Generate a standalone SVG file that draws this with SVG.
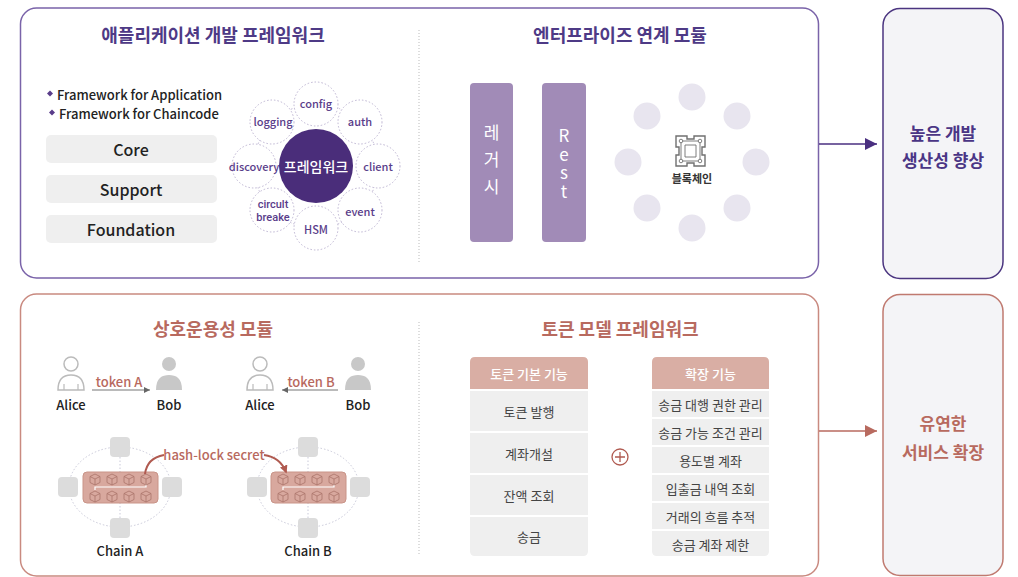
<svg xmlns="http://www.w3.org/2000/svg" width="1018" height="577" viewBox="0 0 1018 577">
<defs>
<style>
text{font-family:"Noto Sans CJK KR","Noto Sans",sans-serif;dominant-baseline:central;text-anchor:middle}
.ptitle{font-size:18px;font-weight:700;fill:#4e3a86}
.stitle{font-size:18px;font-weight:700;fill:#b86a5f}
.en{font-size:13px;font-weight:500;fill:#222;text-anchor:start}
.gbox{fill:#efefef}
.gtxt{font-size:16px;font-weight:500;fill:#222}
.sat{fill:#fff;stroke:#bdb4d2;stroke-width:1;stroke-dasharray:1.5 2}
.stxt{font-size:11px;font-weight:500;fill:#5a3d8a}
.stxt2{font-family:Roboto,"Liberation Sans",sans-serif;font-size:11px;font-weight:500;fill:#5a3d8a}
.bar{fill:#a18bb7}
.vtxt{font-size:17px;fill:#fff;writing-mode:vertical-rl;text-orientation:upright}
.dot{fill:#e8e5ef}
.div{stroke:#bbb;stroke-width:1;stroke-dasharray:1 2}
.lbl{font-size:13px;font-weight:500;fill:#222}
.red{font-size:13px;font-weight:500;fill:#b8695e}
.node{fill:#dcdcdc}
.ring{fill:none;stroke:#c9c9d9;stroke-width:1;stroke-dasharray:1.5 2}
.blk{fill:#d8a89e;stroke:#c99488;stroke-width:1}
.hdr{fill:#d9aea4}
.htxt{font-size:13px;font-weight:500;fill:#fff}
.row{fill:#efefef}
.rtxt{font-size:13px;fill:#444}
.cube{fill:none;stroke:#a9736a;stroke-width:0.8}
</style>
<marker id="ahP" viewBox="0 0 10 10" refX="10" refY="5" markerWidth="18" markerHeight="12" markerUnits="userSpaceOnUse" orient="auto"><path d="M0,0 L10,5 L0,10 Z" fill="#4a2f80"/></marker>
<marker id="ahR" viewBox="0 0 10 10" refX="10" refY="5" markerWidth="18" markerHeight="12" markerUnits="userSpaceOnUse" orient="auto"><path d="M0,0 L10,5 L0,10 Z" fill="#b86a5f"/></marker>
<marker id="ahG" viewBox="0 0 10 10" refX="10" refY="5" markerWidth="6" markerHeight="6" markerUnits="userSpaceOnUse" orient="auto"><path d="M0,0 L10,5 L0,10 Z" fill="#666"/></marker>
<marker id="ahC" viewBox="0 0 10 10" refX="8" refY="5" markerWidth="8" markerHeight="8" markerUnits="userSpaceOnUse" orient="auto"><path d="M0,0 L10,5 L0,10 Z" fill="#b05a50"/></marker>
<g id="cubeA">
<path class="cube" d="M-5,-2.5 L0,-5 L5,-2.5 L5,3.5 L0,6 L-5,3.5 Z M-5,-2.5 L0,0 L5,-2.5 M0,0 L0,6"/>
</g>
<g id="person">
<circle cx="0" cy="-11" r="7"/>
<path d="M-13,15 C-13,3 -7,0 0,0 C7,0 13,3 13,15 Z"/>
</g>
</defs>

<!-- Top section -->
<g id="top-panel">
<rect x="20.5" y="8" width="798" height="270" rx="16" fill="#fff" stroke="#7a63a9" stroke-width="1.5"/>
<line class="div" x1="419" y1="30" x2="419" y2="262"/>
</g>

<g id="app-framework">
<text class="ptitle" x="213" y="34">애플리케이션 개발 프레임워크</text>
<path d="M50,90.5 L53,93.5 L50,96.5 L47,93.5 Z" fill="#5a3d8a"/>
<text class="en" x="57" y="94">Framework for Application</text>
<path d="M52,109.5 L55,112.5 L52,115.5 L49,112.5 Z" fill="#5a3d8a"/>
<text class="en" x="59" y="113">Framework for Chaincode</text>
<g id="core"><rect class="gbox" x="46" y="135" width="171" height="28" rx="5"/><text class="gtxt" x="131" y="149">Core</text></g>
<g id="support"><rect class="gbox" x="46" y="175" width="171" height="28" rx="5"/><text class="gtxt" x="131" y="189">Support</text></g>
<g id="foundation"><rect class="gbox" x="46" y="215" width="171" height="28" rx="5"/><text class="gtxt" x="131" y="229">Foundation</text></g>
</g>

<g id="framework-wheel">
<circle cx="316" cy="166" r="62" fill="none" stroke="#bdb4d2" stroke-width="1" stroke-dasharray="1.5 2"/>
<g id="sat-config"><circle class="sat" cx="316" cy="104" r="22"/><text class="stxt" x="316" y="103">config</text></g>
<g id="sat-auth"><circle class="sat" cx="360" cy="122" r="22"/><text class="stxt" x="360" y="121">auth</text></g>
<g id="sat-client"><circle class="sat" cx="378" cy="166" r="22"/><text class="stxt" x="378" y="166">client</text></g>
<g id="sat-event"><circle class="sat" cx="360" cy="210" r="22"/><text class="stxt" x="360" y="211">event</text></g>
<g id="sat-hsm"><circle class="sat" cx="316" cy="228" r="22"/><text class="stxt" x="316" y="229">HSM</text></g>
<g id="sat-circuit"><circle class="sat" cx="272" cy="210" r="22"/><text class="stxt2" x="273" y="204">circult</text><text class="stxt2" x="273" y="217">breake</text></g>
<g id="sat-discovery"><circle class="sat" cx="254" cy="166" r="22"/><text class="stxt" x="254" y="166">discovery</text></g>
<g id="sat-logging"><circle class="sat" cx="272" cy="122" r="22"/><text class="stxt" x="273" y="121">logging</text></g>
<g id="framework-center"><circle cx="316" cy="166" r="37" fill="#4a2d7a"/><text x="316" y="166" font-size="14" font-weight="500" fill="#fff">프레임워크</text></g>
</g>

<g id="enterprise">
<text class="ptitle" x="620" y="34">엔터프라이즈 연계 모듈</text>
<g id="legacy"><rect class="bar" x="470" y="83" width="43" height="159" rx="4"/>
<text class="vtxt" x="491.5" y="164.5" letter-spacing="10">레거시</text></g>
<g id="rest"><rect class="bar" x="542" y="83" width="44" height="159" rx="4"/>
<text class="vtxt" x="564" y="164.5" letter-spacing="1.5">Rest</text></g>
<g id="blockchain">
<circle class="dot" cx="692" cy="97" r="13.5"/>
<circle class="dot" cx="737" cy="116" r="13.5"/>
<circle class="dot" cx="756" cy="162" r="13.5"/>
<circle class="dot" cx="737" cy="208" r="13.5"/>
<circle class="dot" cx="692" cy="228" r="13.5"/>
<circle class="dot" cx="647" cy="208" r="13.5"/>
<circle class="dot" cx="628" cy="162" r="13.5"/>
<circle class="dot" cx="647" cy="116" r="13.5"/>
<g fill="none" stroke="#707070" stroke-width="1.4">
<path d="M676,136 H687 V139 H694 V136 H705 V147 H702 V155 H705 V166 H694 V163 H687 V166 H676 V155 H679 V147 H676 Z"/>
<path d="M681,141 H700 V161 H681 Z" stroke-width="0.9"/>
<path d="M685,145 H696 V157 H685 Z" stroke-width="0.9"/>
</g>
<g fill="#fff" stroke="#707070" stroke-width="0.9">
<circle cx="681" cy="141" r="1.8"/><circle cx="700" cy="141" r="1.8"/><circle cx="681" cy="161" r="1.8"/><circle cx="700" cy="161" r="1.8"/>
</g>
<text x="692" y="178" font-size="11" font-weight="700" fill="#333">블록체인</text>
</g>
</g>

<g id="goal-top">
<rect x="883" y="8.5" width="120" height="270" rx="17" fill="#f4f4f7" stroke="#4b3580" stroke-width="1.5"/>
<text x="943" y="132" font-size="17" font-weight="700" fill="#4a3585">높은 개발</text>
<text x="943" y="159" font-size="17" font-weight="700" fill="#4a3585">생산성 향상</text>
</g>

<!-- Bottom section -->
<g id="bottom-panel">
<rect x="20.5" y="294" width="798" height="282" rx="16" fill="#fff" stroke="#c98a80" stroke-width="1.5"/>
<line class="div" x1="419" y1="322" x2="419" y2="555"/>
</g>

<g id="interop">
<text class="stitle" x="213" y="328">상호운용성 모듈</text>
<g id="alice-a"><use href="#person" x="71" y="375" fill="none" stroke="#bbb" stroke-width="1.5"/><path d="M64,384 V390 M78,384 V390" stroke="#bbb" stroke-width="1.2"/><text class="lbl" x="71" y="404">Alice</text></g>
<g id="bob-a"><use href="#person" x="169" y="375" fill="#c8c8c8"/><text class="lbl" x="169" y="404">Bob</text></g>
<text class="red" x="119" y="381">token A</text>
<g id="alice-b"><use href="#person" x="260" y="375" fill="none" stroke="#bbb" stroke-width="1.5"/><path d="M253,384 V390 M267,384 V390" stroke="#bbb" stroke-width="1.2"/><text class="lbl" x="260" y="404">Alice</text></g>
<g id="bob-b"><use href="#person" x="358" y="375" fill="#c8c8c8"/><text class="lbl" x="358" y="404">Bob</text></g>
<text class="red" x="311" y="381">token B</text>

<g id="chain-a">
<ellipse class="ring" cx="120" cy="487" rx="51" ry="40"/>
<line x1="120" y1="457" x2="120" y2="518" stroke="#c9c9d9" stroke-dasharray="1.5 2"/>
<rect class="node" x="110" y="437" width="20" height="20" rx="4"/>
<rect class="node" x="58" y="477" width="20" height="20" rx="4"/>
<rect class="node" x="162" y="477" width="20" height="20" rx="4"/>
<rect class="node" x="110" y="518" width="20" height="20" rx="4"/>
<rect class="blk" x="83" y="472" width="75" height="31" rx="4"/>
<path d="M95,490 V487 H146 V484" fill="none" stroke="#fff" stroke-width="1.2"/>
<use href="#cubeA" x="95" y="479"/><use href="#cubeA" x="112" y="479"/><use href="#cubeA" x="129" y="479"/><use href="#cubeA" x="146" y="479"/>
<use href="#cubeA" x="95" y="496"/><use href="#cubeA" x="112" y="496"/><use href="#cubeA" x="129" y="496"/><use href="#cubeA" x="146" y="496"/>
<text class="lbl" x="120" y="550">Chain A</text>
</g>
<g id="chain-b">
<ellipse class="ring" cx="308" cy="487" rx="51" ry="40"/>
<line x1="308" y1="457" x2="308" y2="518" stroke="#c9c9d9" stroke-dasharray="1.5 2"/>
<rect class="node" x="298" y="437" width="20" height="20" rx="4"/>
<rect class="node" x="247" y="477" width="20" height="20" rx="4"/>
<rect class="node" x="350" y="477" width="20" height="20" rx="4"/>
<rect class="node" x="298" y="518" width="20" height="20" rx="4"/>
<rect class="blk" x="271" y="472" width="75" height="31" rx="4"/>
<path d="M283,490 V487 H334 V484" fill="none" stroke="#fff" stroke-width="1.2"/>
<use href="#cubeA" x="283" y="479"/><use href="#cubeA" x="300" y="479"/><use href="#cubeA" x="317" y="479"/><use href="#cubeA" x="334" y="479"/>
<use href="#cubeA" x="283" y="496"/><use href="#cubeA" x="300" y="496"/><use href="#cubeA" x="317" y="496"/><use href="#cubeA" x="334" y="496"/>
<text class="lbl" x="308" y="550">Chain B</text>
</g>
<text class="red" x="214" y="454">hash-lock secret</text>
</g>

<g id="token-model">
<text class="stitle" x="620" y="328">토큰 모델 프레임워크</text>
<g id="basic-col">
<path class="hdr" d="M470,389 V362 Q470,357 475,357 H583 Q588,357 588,362 V389 Z"/>
<text class="htxt" x="529" y="373">토큰 기본 기능</text>
<rect class="row" x="470" y="391" width="118" height="40"/><text class="rtxt" x="529" y="411">토큰 발행</text>
<rect class="row" x="470" y="433" width="118" height="40"/><text class="rtxt" x="529" y="453">계좌개설</text>
<rect class="row" x="470" y="475" width="118" height="40"/><text class="rtxt" x="529" y="495">잔액 조회</text>
<path class="row" d="M470,517 H588 V551 Q588,556 583,556 H475 Q470,556 470,551 Z"/><text class="rtxt" x="529" y="536">송금</text>
</g>
<g id="plus">
<circle cx="620" cy="457" r="8" fill="#fff" stroke="#b05a50" stroke-width="1.3"/>
<path d="M615,457 H625 M620,452 V462" stroke="#b05a50" stroke-width="1.3"/>
</g>
<g id="ext-col">
<path class="hdr" d="M652,389 V362 Q652,357 657,357 H764 Q769,357 769,362 V389 Z"/>
<text class="htxt" x="710.5" y="373">확장 기능</text>
<rect class="row" x="652" y="391" width="117" height="26"/><text class="rtxt" x="710.5" y="404">송금 대행 권한 관리</text>
<rect class="row" x="652" y="419" width="117" height="26"/><text class="rtxt" x="710.5" y="432">송금 가능 조건 관리</text>
<rect class="row" x="652" y="447" width="117" height="26"/><text class="rtxt" x="710.5" y="460">용도별 계좌</text>
<rect class="row" x="652" y="475" width="117" height="26"/><text class="rtxt" x="710.5" y="488">입출금 내역 조회</text>
<rect class="row" x="652" y="503" width="117" height="26"/><text class="rtxt" x="710.5" y="516">거래의 흐름 추적</text>
<path class="row" d="M652,531 H769 V551 Q769,556 764,556 H657 Q652,556 652,551 Z"/><text class="rtxt" x="710.5" y="544">송금 계좌 제한</text>
</g>
</g>

<g id="goal-bottom">
<rect x="883" y="294.5" width="120" height="281" rx="17" fill="#f4f4f7" stroke="#c07a70" stroke-width="1.5"/>
<text x="943" y="422" font-size="17" font-weight="700" fill="#b86a5f">유연한</text>
<text x="943" y="451" font-size="17" font-weight="700" fill="#b86a5f">서비스 확장</text>
</g>

<g id="connectors">
<line x1="819" y1="144" x2="877" y2="144" stroke="#4a2f80" stroke-width="1.5" marker-end="url(#ahP)"/>
<line x1="819" y1="431" x2="877" y2="431" stroke="#b86a5f" stroke-width="1.5" marker-end="url(#ahR)"/>
<line x1="92" y1="390" x2="150" y2="390" stroke="#777" stroke-width="1.2" marker-end="url(#ahG)"/>
<line x1="338" y1="390" x2="282" y2="390" stroke="#777" stroke-width="1.2" marker-end="url(#ahG)"/>
<path d="M145,474 Q147,458 164,455" fill="none" stroke="#b05a50" stroke-width="2"/>
<path d="M264,455 Q280,457 286,472" fill="none" stroke="#b05a50" stroke-width="2" marker-end="url(#ahC)"/>
</g>
</svg>
